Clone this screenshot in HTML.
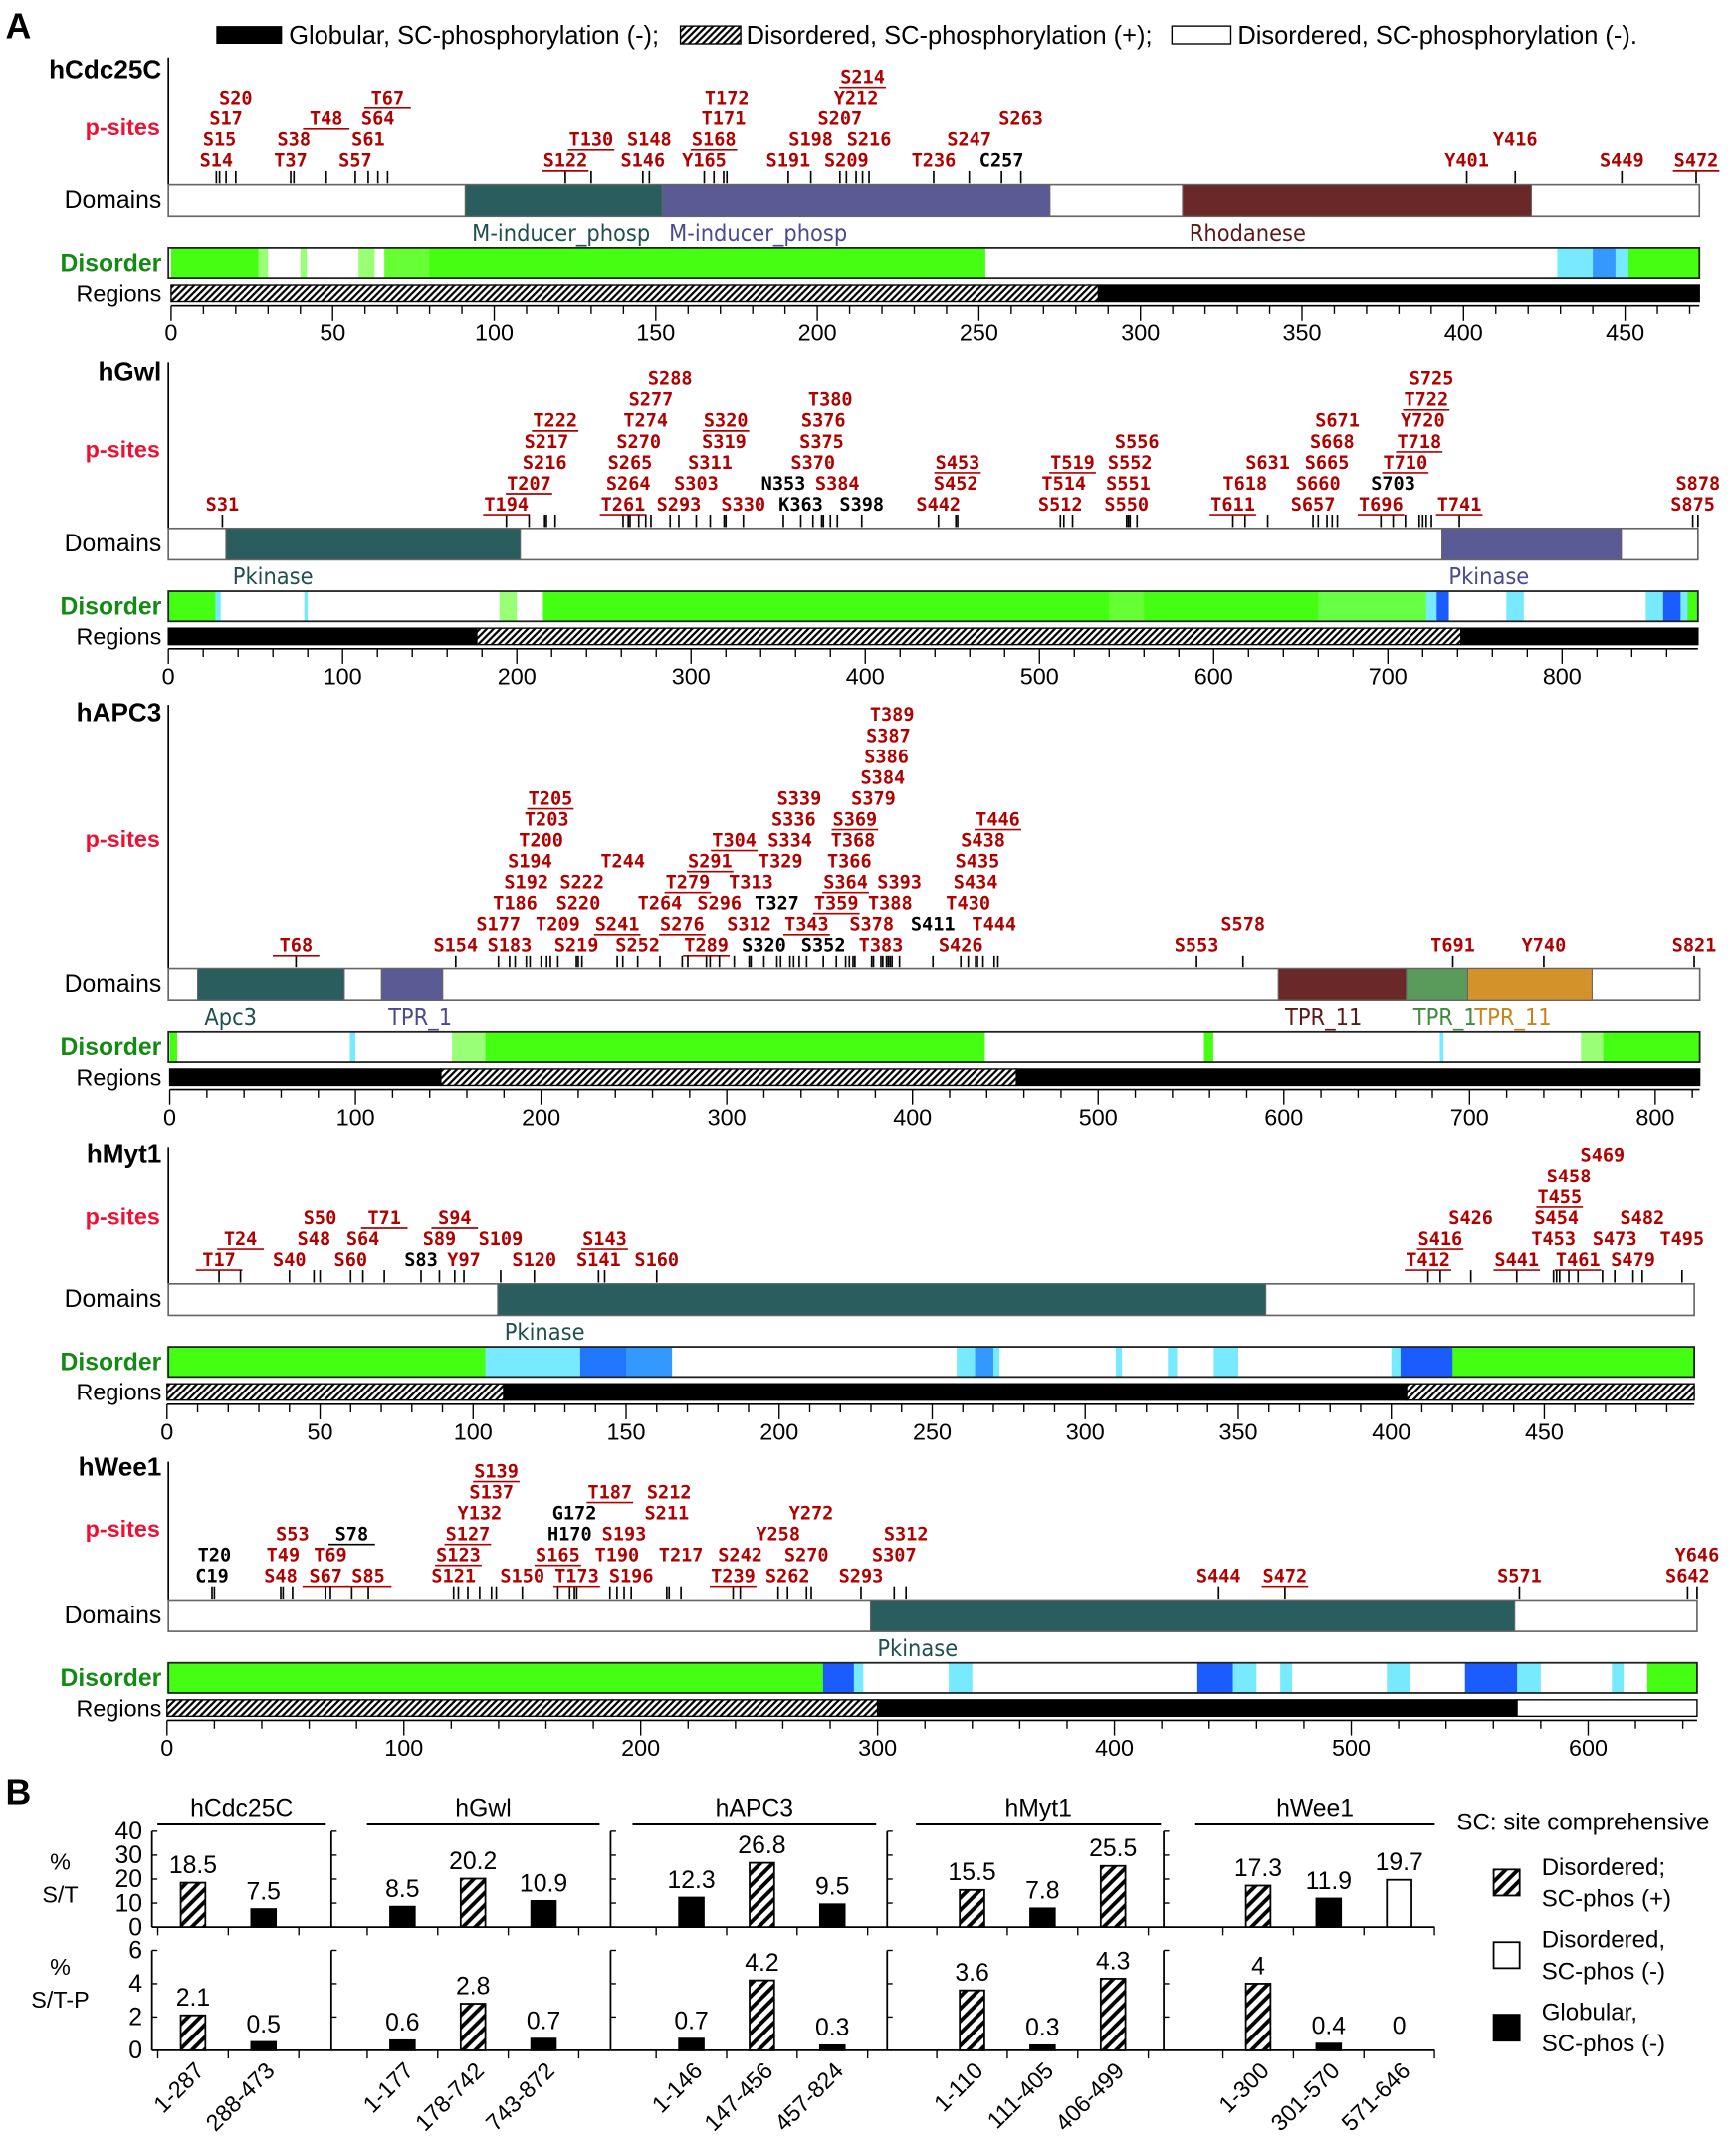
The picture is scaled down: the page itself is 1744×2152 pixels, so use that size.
<!DOCTYPE html>
<html><head><meta charset="utf-8"><style>
html,body{margin:0;padding:0;background:#fff;}
svg{display:block;}
text{font-family:"Liberation Sans",sans-serif;}
.site{font-family:"DejaVu Sans Mono","Liberation Mono",monospace;font-weight:bold;font-size:13.5px;}
</style></head><body>
<svg id="fig" xmlns="http://www.w3.org/2000/svg" width="1744" height="2152" viewBox="0 0 1268 1565" preserveAspectRatio="none">
<defs>
<pattern id="hatchR" patternUnits="userSpaceOnUse" width="5" height="5"><rect width="5" height="5" fill="#fff"/><path d="M-1,1 l2,-2 M0,5 l5,-5 M4,6 l2,-2" stroke="#000" stroke-width="1.6"/></pattern>
<pattern id="hatchB" patternUnits="userSpaceOnUse" width="9" height="9"><rect width="9" height="9" fill="#fff"/><path d="M-2,2 l4,-4 M0,9 l9,-9 M7,11 l4,-4" stroke="#000" stroke-width="2.8"/></pattern>
</defs>
<text x="4" y="28" font-size="26" font-weight="bold">A</text>
<g>
<rect x="158" y="19" width="48" height="13" fill="#000"/>
<text x="211" y="32" font-size="18.5">Globular, SC-phosphorylation (-);</text>
<rect x="497" y="19" width="44" height="13" fill="url(#hatchR)" stroke="#000"/>
<text x="545" y="32" font-size="18.5">Disordered, SC-phosphorylation (+);</text>
<rect x="856" y="19" width="43" height="13" fill="#fff" stroke="#000"/>
<text x="904" y="32" font-size="18.5">Disordered, SC-phosphorylation (-).</text>
</g>
<g id="panelA"></g>
<text x="4" y="1318" font-size="26" font-weight="bold">B</text>
<g id="panelB"></g>
</svg>
<script>
const NS="http://www.w3.org/2000/svg";
function el(tag,attrs,parent,txt){const e=document.createElementNS(NS,tag);for(const k in attrs)e.setAttribute(k,attrs[k]);if(txt!==undefined)e.textContent=txt;parent.appendChild(e);return e;}
const G="#44ff11",LG="#99ff77",C="#77eaff",B="#1a5cff",W="#ffffff";

// ---- Panel A data ----
const proteinNames=["hCdc25C","hGwl","hAPC3","hMyt1","hWee1"];
const proteinLengths=[473,878,824,499,646];
const axisMax=[450,800,800,450,600];
const axisStep=[50,100,100,50,100];
const cdcSites=[["S14",0],["S15",1],["S17",2],["S20",3],["T37",0],["S38",1],["T48",2,1],["S57",0],["S61",1],["S64",2],["T67",3,1],["S122",0,1],["T130",1,1],["S146",0],["S148",1],["Y165",0],["S168",1,1],["T171",2],["T172",3],["S191",0],["S198",1],["S207",2],["S209",0],["Y212",3],["S214",4,1],["S216",1],["T236",0],["S247",1],["C257",0,0,1],["S263",2],["Y401",0],["Y416",1],["S449",0],["S472",0,1]];
const gwlSites=[["S31",0],["T194",0,1],["T207",1,1],["S216",2],["S217",3],["T222",4,1],["T261",0,1],["S264",1],["S265",2],["S270",3],["T274",4],["S277",5],["S288",6],["S293",0],["S303",1],["S311",2],["S319",3],["S320",4,1],["S330",0],["N353",1,0,1],["K363",0,0,1],["S370",2],["S375",3],["S376",4],["T380",5],["S384",1],["S398",0,0,1],["S442",0],["S452",1],["S453",2,1],["S512",0],["T514",1],["T519",2,1],["S550",0],["S551",1],["S552",2],["S556",3],["T611",0,1],["T618",1],["S631",2],["S657",0],["S660",1],["S665",2],["S668",3],["S671",4],["T696",0,1],["S703",1,0,1],["T710",2,1],["T718",3,1],["Y720",4],["T722",5,1],["S725",6],["T741",0,1],["S875",0],["S878",1]];
const apcSites=[["T68",0,1],["S154",0],["S183",0],["S219",0],["S252",0],["T289",0,1],["S320",0,0,1],["S352",0,0,1],["T383",0],["S426",0],["S553",0],["T691",0],["Y740",0],["S821",0],["S177",1],["T209",1],["S241",1,1],["S276",1,1],["S312",1],["T343",1,1],["S378",1],["S411",1,0,1],["T444",1],["S578",1],["T186",2],["S220",2],["T264",2],["S296",2],["T327",2,0,1],["T359",2,1],["T388",2],["T430",2],["S192",3],["S222",3],["T279",3,1],["T313",3],["S364",3,1],["S393",3],["S434",3],["S194",4],["T244",4],["S291",4,1],["T329",4],["T366",4],["S435",4],["T200",5],["T304",5,1],["S334",5],["T368",5],["S438",5],["T203",6],["S336",6],["S369",6,1],["T446",6,1],["T205",7,1],["S339",7],["S379",7],["S384",8],["S386",9],["S387",10],["T389",11]];
const mytSites=[["T17",0,1],["S40",0],["S60",0],["S83",0,0,1],["Y97",0],["S120",0],["S141",0],["S160",0],["T24",1,1],["S48",1],["S64",1],["S89",1],["S109",1],["S143",1,1],["S50",2],["T71",2,1],["S94",2,1],["T412",0,1],["S416",1,1],["S426",2],["S441",0,1],["T461",0,1],["S479",0],["T453",1],["S473",1],["T495",1],["S454",2],["S482",2],["T455",3,1],["S458",4],["S469",5]];
const weeSites=[["C19",0,0,1],["T20",1,0,1],["S48",0],["T49",1],["S53",2],["S67",0,1],["T69",1],["S78",2,1,1],["S85",0,1],["S121",0],["S123",1,1],["S127",2,1],["Y132",3],["S137",4],["S139",5,1],["S150",0],["S165",1,1],["H170",2,0,1],["G172",3,0,1],["T173",0,1],["T187",4,1],["T190",1],["S193",2],["S196",0],["S211",3],["S212",4],["T217",1],["T239",0,1],["S242",1],["Y258",2],["S262",0],["S270",1],["Y272",3],["S293",0],["S307",1],["S312",2],["S444",0],["S472",0,1],["S571",0],["S642",0],["Y646",1]];
const sitesAll=[cdcSites,gwlSites,apcSites,mytSites,weeSites];
const domainsAll=[
 [[91,152,"#2a5e5e","M-inducer_phosp","#1f4f4f"],[152,272,"#5a5a94","M-inducer_phosp","#4a4a90"],[313,421,"#6b2828","Rhodanese","#5a1a1a"]],
 [[33,202,"#2a5e5e","Pkinase","#1f4f4f"],[731,834,"#5a5a94","Pkinase","#4a4a90"]],
 [[15,94,"#2a5e5e","Apc3","#1f4f4f"],[114,147,"#5a5a94","TPR_1","#4a4a90"],[597,666,"#6b2828","TPR_11","#5a1a1a"],[666,699,"#5a9a5a","TPR_1","#3f8a3f"],[699,766,"#d4922a","TPR_11","#c8841a"]],
 [[108,359,"#2a5e5e","Pkinase","#1f4f4f"]],
 [[297,569,"#2a5e5e","Pkinase","#1f4f4f"]]];
const disorderAll=[
 [[0,27,G],[27,30,LG],[30,40,W],[40,42,LG],[42,58,W],[58,63,LG],[63,66,W],[66,80,"#66ff33"],[80,252,G],[252,429,W],[429,440,C],[440,447,"#3399ff"],[447,451,C],[451,473,G]],
 [[0,27,G],[27,30,C],[30,78,W],[78,80,C],[80,190,W],[190,200,LG],[200,215,W],[215,540,G],[540,560,"#66ff33"],[560,660,G],[660,722,"#66ff44"],[722,728,C],[728,735,B],[735,768,W],[768,778,C],[778,848,W],[848,858,C],[858,868,B],[868,872,C],[872,878,G]],
 [[0,4,G],[4,97,W],[97,100,C],[100,152,W],[152,170,LG],[170,439,G],[439,557,W],[557,562,G],[562,684,W],[684,686,C],[686,760,W],[760,772,LG],[772,824,G]],
 [[0,104,G],[104,135,C],[135,150,"#2277ff"],[150,165,"#3399ff"],[165,258,W],[258,264,C],[264,270,"#3399ff"],[270,272,C],[272,310,W],[310,312,C],[312,327,W],[327,330,C],[330,342,W],[342,350,C],[350,400,W],[400,403,C],[403,420,B],[420,499,G]],
 [[0,277,G],[277,290,B],[290,294,C],[294,330,W],[330,340,C],[340,435,W],[435,450,B],[450,460,C],[460,470,W],[470,475,C],[475,515,W],[515,525,C],[525,548,W],[548,570,B],[570,580,C],[580,610,W],[610,615,C],[615,625,W],[625,646,G]]];
const regionsAll=[
 [[0,287,"h"],[287,473,"b"]],
 [[0,177,"b"],[177,742,"h"],[742,878,"b"]],
 [[0,146,"b"],[146,456,"h"],[456,824,"b"]],
 [[0,110,"h"],[110,405,"b"],[405,499,"h"]],
 [[0,300,"h"],[300,570,"b"],[570,646,"w"]]];
// layout
const panelDy=[0,251,573,803,1034];
const axisX0=[125,123,124,122,122];
const axisXEnd=[1187,1141,1209,1128,1160];
const nameY=[57,278,527,849,1078];
const vAxisTop=[42,265,515,838,1068];

const A=document.getElementById("panelA");
proteinNames.forEach((name,p)=>{
 const dy=panelDy[p];
 const sx=r=>axisX0[p]+r*(axisXEnd[p]-axisX0[p])/axisMax[p];
 const g=el("g",{},A);
 
 
 const domTop=135+dy, disTop=181+dy, regTop=208+dy, axY=223+dy;
 const t1=el("text",{x:118,y:nameY[p],"font-size":19,"font-weight":"bold","text-anchor":"end"},g,name);
 
 
 const ps=el("text",{x:117,y:[99,334,619,895,1123][p],"font-size":17,"font-weight":"bold",fill:"#ee1133","text-anchor":"end"},g,"p-sites");
 
 
 const va=el("line",{x1:123,x2:123,y1:vAxisTop[p],y2:domTop,stroke:"#000","stroke-width":1.2},g);
 
 
 sitesAll[p].forEach(s=>{
  const res=parseInt(s[0].slice(1));const x=sx(res);
  const tk=el("line",{x1:x,x2:x,y1:domTop-10,y2:domTop-1,stroke:"#000","stroke-width":1.2},g);
  
  
  const y=domTop-13-s[1]*15.3;
  const t=el("text",{x:x,y:y,"text-anchor":"middle",class:"site",fill:s[3]?"#000":"#b00000"},g,s[0]);
  
  
  if(s[2]){const u=el("line",{x1:x-17,x2:x+17,y1:y+3,y2:y+3,stroke:s[3]?"#000":"#b00000","stroke-width":1.2},g);
   
   }
 });
 [["Domains",domTop+17,"#000",18,"normal"],["Disorder",disTop+17,"#138a13",18,"bold"],["Regions",regTop+12,"#000",17,"normal"]].forEach(l=>{
  const t=el("text",{x:118,y:l[1],"font-size":l[3],"font-weight":l[4],fill:l[2],"text-anchor":"end"},g,l[0]);
  
  
 });
 const L=proteinLengths[p];
 const db=el("rect",{x:123,y:domTop,width:sx(L)-123,height:23,fill:"#fff",stroke:"#666","stroke-width":1.2},g);
 
 
 domainsAll[p].forEach(d=>{
  const r=el("rect",{x:sx(d[0]),y:domTop,width:sx(d[1])-sx(d[0]),height:23,fill:d[2],stroke:"#666","stroke-width":0.8},g);
  
  
  const t=el("text",{x:sx(d[0])+5,y:domTop+41,"font-size":17,fill:d[4]},g,d[3]);
  t.style.fontFamily='"DejaVu Sans Condensed","DejaVu Sans",sans-serif';
  
  
 });
 disorderAll[p].forEach(d=>{
  const r=el("rect",{x:sx(d[0]),y:disTop,width:sx(d[1])-sx(d[0])+0.3,height:22,fill:d[2]},g);
  
  
 });
 const df=el("rect",{x:123,y:disTop,width:sx(L)-123,height:22,fill:"none",stroke:"#222","stroke-width":1.3},g);
 
 
 regionsAll[p].forEach(d=>{
  const r=el("rect",{x:sx(d[0]),y:regTop,width:sx(d[1])-sx(d[0]),height:12,fill:d[2]=="h"?"url(#hatchR)":(d[2]=="b"?"#000":"#fff"),stroke:"#000","stroke-width":1},g);
  
  
 });
 const ax=el("line",{x1:sx(0),x2:sx(L),y1:axY,y2:axY,stroke:"#000","stroke-width":1.2},g);
 
 
 const minor=axisStep[p]/5;
 for(let v=0;v<=L;v+=minor){
  const major=(Math.round(v)%axisStep[p]===0);
  const tk=el("line",{x1:sx(v),x2:sx(v),y1:axY,y2:axY+(major?11:6),stroke:"#000","stroke-width":1},g);
  
  
  if(major&&v<=axisMax[p]){
   const t=el("text",{x:sx(v),y:axY+26,"font-size":17,"text-anchor":"middle"},g,String(v));
   
   
  }
 }
});

// ---- Panel B data ----
const groupNames=["hCdc25C","hGwl","hAPC3","hMyt1","hWee1"];
const groupRanges=[["1-287","288-473"],["1-177","178-742","743-872"],["1-146","147-456","457-824"],["1-110","111-405","406-499"],["1-300","301-570","571-646"]];
const groupTypes=[["h","b"],["b","h","b"],["b","h","b"],["h","b","h"],["h","b","w"]];
const pctST=[[18.5,7.5],[8.5,20.2,10.9],[12.3,26.8,9.5],[15.5,7.8,25.5],[17.3,11.9,19.7]];
const pctSTP=[[2.1,0.5],[0.6,2.8,0.7],[0.7,4.2,0.3],[3.6,0.3,4.3],[4,0.4,0]];
const topTicks=[0,10,20,30,40];
const botTicks=[0,2,4,6];
const sepX=[111,242,446,648,850,1048];
const firstBar=[141,294,505,710,919];
const barGap=51.5;
const headerLines=[[115,238],[268,438],[462,640],[669,848],[873,1048]];
const Bp=document.getElementById("panelB");
const charts=[{base:1408,top:1338,max:40,vals:pctST,ticks:topTicks,lab:["%","S/T"],ly:[1366,1390]},{base:1498,top:1425,max:6,vals:pctSTP,ticks:botTicks,lab:["%","S/T-P"],ly:[1443,1467]}];
charts.forEach((c,ci)=>{
 const ys=v=>c.base-v*(c.base-c.top)/c.max;
 const cg=el("g",{},Bp);
 
 
 c.lab.forEach((l,i)=>{const t=el("text",{x:44,y:c.ly[i],"font-size":17,"text-anchor":"middle"},cg,l);
  
  });
 const bl=el("line",{x1:sepX[0],x2:sepX[5],y1:c.base,y2:c.base,stroke:"#000","stroke-width":1.3},cg);
 
 
 sepX.slice(0,5).forEach((x,i)=>{
  const l=el("line",{x1:x,x2:x,y1:c.top,y2:c.base,stroke:"#000","stroke-width":1.3},cg);
  
  
  c.ticks.forEach(v=>{const tk=el("line",{x1:x,x2:x+4,y1:ys(v),y2:ys(v),stroke:"#000","stroke-width":1},cg);
   
   });
 });
 c.ticks.forEach(v=>{const t=el("text",{x:104,y:ys(v)+6,"font-size":18,"text-anchor":"end"},cg,String(v));
  
  });
 groupNames.forEach((gname,gi)=>{
  c.vals[gi].forEach((v,bi)=>{
   const cx=firstBar[gi]+bi*barGap;
   const tk1=el("line",{x1:cx-barGap/2,x2:cx-barGap/2,y1:c.base,y2:c.base+6,stroke:"#000","stroke-width":1},cg);
   
   
   if(bi===c.vals[gi].length-1){const tk2=el("line",{x1:cx+barGap/2,x2:cx+barGap/2,y1:c.base,y2:c.base+6,stroke:"#000","stroke-width":1},cg);
    
    }
   const ty=groupTypes[gi][bi];
   const r=el("rect",{x:cx-9,y:ys(v),width:18,height:c.base-ys(v),fill:ty=="h"?"url(#hatchB)":(ty=="b"?"#000":"#fff"),stroke:"#000","stroke-width":1.3},cg);
   
   
   const t=el("text",{x:cx,y:(v===0?c.base-12:ys(v)-7),"font-size":18,"text-anchor":"middle"},cg,String(v));
   
   
   if(ci===1){const xl=el("text",{x:cx+9,y:1514,"font-size":17,"text-anchor":"end",transform:"rotate(-45 "+(cx+9)+" 1514)"},cg,groupRanges[gi][bi]);
    
    }
  });
  if(ci===0){
   const h=headerLines[gi];
   const hl=el("line",{x1:h[0],x2:h[1],y1:1333,y2:1333,stroke:"#000","stroke-width":1.5},cg);
   
   
   const ht=el("text",{x:(h[0]+h[1])/2,y:1327,"font-size":18,"text-anchor":"middle"},cg,gname);
   
   
  }
 });
});
const lg=el("g",{},Bp);


const lt=el("text",{x:1064,y:1337,"font-size":17.5},lg,"SC: site comprehensive");


[["url(#hatchB)",1366,"Disordered;","SC-phos (+)"],["#fff",1419,"Disordered,","SC-phos (-)"],["#000",1472,"Globular,","SC-phos (-)"]].forEach(e=>{
 const r=el("rect",{x:1091,y:e[1],width:19,height:19,fill:e[0],stroke:"#000","stroke-width":1.3},lg);
 
 
 const t1=el("text",{x:1126,y:e[1]+4,"font-size":17.5},lg,e[2]);
 
 
 const t2=el("text",{x:1126,y:e[1]+27,"font-size":17.5},lg,e[3]);
 
 
});
</script>
</body></html>
